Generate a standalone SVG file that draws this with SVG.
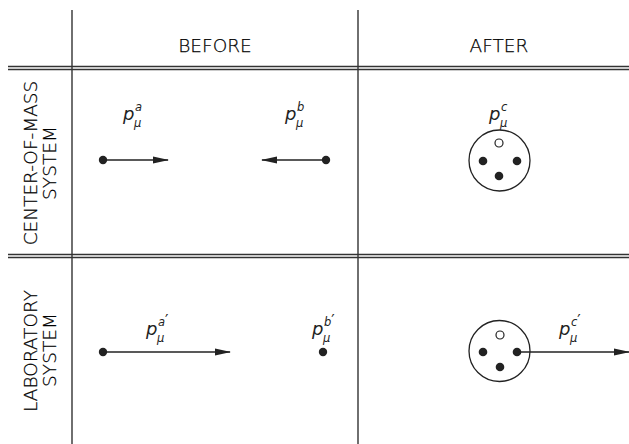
<svg xmlns="http://www.w3.org/2000/svg" width="629" height="444" viewBox="0 0 629 444">
<style>
.ln{stroke:#222;stroke-width:1.3;fill:none}
.dl{stroke:#333;stroke-width:1.3;fill:none}
.hd{font-family:"DejaVu Sans","Liberation Sans",sans-serif;font-weight:200;font-size:18.5px;fill:#000;stroke:#000;stroke-width:0.25;text-anchor:middle}
.p{font-family:"DejaVu Sans","Liberation Sans",sans-serif;font-size:18px;font-style:italic;fill:#222}
.s{font-family:"DejaVu Sans","Liberation Sans",sans-serif;font-size:11.5px;font-style:italic;fill:#222}
.pr{font-size:15px;font-style:normal}
.dot{fill:#222}
.odot{fill:#fff;stroke:#222;stroke-width:1.2}
.arr{stroke:#222;stroke-width:1.5;fill:none}
</style>
<defs>
<marker id="ah" markerWidth="16" markerHeight="8" refX="15" refY="4" orient="auto" markerUnits="userSpaceOnUse">
<path d="M0,0.5 L16,4 L0,7.5 Z" fill="#222"/>
</marker>
</defs>
<g id="grid">
<line class="ln" x1="72" y1="10" x2="72" y2="444"/>
<line class="ln" x1="358" y1="10" x2="358" y2="444"/>
<line class="dl" x1="8" y1="66.5" x2="629" y2="66.5"/>
<line class="dl" x1="8" y1="69.5" x2="629" y2="69.5"/>
<line class="dl" x1="8" y1="254.5" x2="629" y2="254.5"/>
<line class="dl" x1="8" y1="257.5" x2="629" y2="257.5"/>
</g>
<g id="headers">
<text class="hd" x="215" y="52">BEFORE</text>
<text class="hd" x="499" y="52">AFTER</text>
<text class="hd" transform="translate(37,163) rotate(-90)">CENTER-OF-MASS</text>
<text class="hd" transform="translate(56,163) rotate(-90)">SYSTEM</text>
<text class="hd" transform="translate(37,351) rotate(-90)">LABORATORY</text>
<text class="hd" transform="translate(56,350) rotate(-90)">SYSTEM</text>
</g>
<g id="com-a">
<circle class="dot" cx="103" cy="160" r="4.2"/>
<text class="p" x="123" y="120">p</text>
<text class="s" x="135" y="111">a</text>
<text class="s" x="134" y="127">μ</text>
</g>
<g id="com-b">
<circle class="dot" cx="326" cy="160" r="4.2"/>
<text class="p" x="285" y="120">p</text>
<text class="s" x="297" y="111">b</text>
<text class="s" x="296" y="127">μ</text>
</g>
<g id="com-c">
<circle class="ln" cx="499.5" cy="160.5" r="30.5"/>
<circle class="odot" cx="499" cy="143" r="4"/>
<circle class="dot" cx="483" cy="161" r="4.3"/>
<circle class="dot" cx="517" cy="161" r="4.3"/>
<circle class="dot" cx="499" cy="176" r="4.3"/>
<text class="p" x="489" y="120">p</text>
<text class="s" x="501" y="111">c</text>
<text class="s" x="500" y="127">μ</text>
</g>
<g id="lab-a">
<circle class="dot" cx="103" cy="352" r="4.2"/>
<text class="p" x="146" y="335">p</text>
<text class="s" x="158" y="326">a<tspan class="pr">′</tspan></text>
<text class="s" x="157" y="342">μ</text>
</g>
<g id="lab-b">
<circle class="dot" cx="323" cy="352" r="4.2"/>
<text class="p" x="312" y="335">p</text>
<text class="s" x="324" y="326">b<tspan class="pr">′</tspan></text>
<text class="s" x="323" y="342">μ</text>
</g>
<g id="lab-c">
<circle class="ln" cx="499.5" cy="351" r="30.5"/>
<circle class="odot" cx="500" cy="335" r="4"/>
<circle class="dot" cx="483" cy="352" r="4.3"/>
<circle class="dot" cx="517" cy="352" r="4.3"/>
<circle class="dot" cx="500" cy="367" r="4.3"/>
<text class="p" x="559" y="335">p</text>
<text class="s" x="571" y="326">c<tspan class="pr">′</tspan></text>
<text class="s" x="570" y="342">μ</text>
</g>
<g id="connectors">
<line class="arr" x1="103" y1="160" x2="168" y2="160" marker-end="url(#ah)"/>
<line class="arr" x1="326" y1="160" x2="262" y2="160" marker-end="url(#ah)"/>
<line class="arr" x1="103" y1="352" x2="230" y2="352" marker-end="url(#ah)"/>
<line class="arr" x1="517" y1="352" x2="629" y2="352" marker-end="url(#ah)"/>
</g>
</svg>
